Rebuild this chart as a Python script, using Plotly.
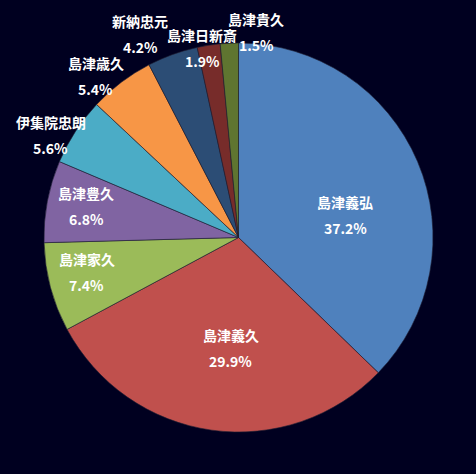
import math

import plotly.graph_objects as go

# 人物別の割合 (%)
names = ["島津義弘", "島津義久", "島津家久", "島津豊久", "伊集院忠朗",
         "島津歳久", "新納忠元", "島津日新斎", "島津貴久"]
shares = [37.2, 29.9, 7.4, 6.8, 5.6, 5.4, 4.2, 1.9, 1.5]
colors = ["#4F81BD", "#C0504D", "#9BBB59", "#8064A2", "#4BACC6",
          "#F79646", "#2C4D75", "#772C2A", "#5F7530"]

# ラベル配置（円の半径に対する距離の比率と、中心角からのずらし角度）
label_radius = [0.56, 0.57, 0.80, 0.80, 1.10, 1.11, 1.16, 0.99, 1.06]
label_nudge = [11, -4, 2, 1, -4.5, -4.3, -6, -2, 7.7]

BG = "#000020"
FONT = "Noto Sans CJK JP, sans-serif"
W, H = 476, 474
M = dict(l=44, r=43, t=43, b=42)

fig = go.Figure(go.Pie(
    labels=names,
    values=shares,
    sort=False,
    direction="clockwise",
    rotation=0,
    marker=dict(colors=colors, line=dict(color="rgba(30,30,50,0.6)", width=1)),
    textinfo="none",
    hoverinfo="label+percent",
    showlegend=False,
))

# 中心角からラベル位置を計算して annotation で置く
total = sum(shares)
plot_w = W - M["l"] - M["r"]
plot_h = H - M["t"] - M["b"]
cum = 0.0
for name, v, rf, nudge in zip(names, shares, label_radius, label_nudge):
    mid = (cum + v / 2) / total * 360 + nudge
    cum += v
    rad = math.radians(mid)
    x = 0.5 + 0.5 * rf * math.sin(rad)
    y = 0.5 + 0.5 * rf * math.cos(rad) * plot_w / plot_h
    for txt, shift in ((name, 13), (f"{v:.1f}%", -13)):
        fig.add_annotation(
            x=x, y=y, xref="paper", yref="paper",
            xanchor="center", yanchor="middle",
            text=f"<b>{txt}</b>", showarrow=False, yshift=shift,
            font=dict(family=FONT, size=14, color="white"),
        )

fig.update_layout(
    width=W,
    height=H,
    paper_bgcolor=BG,
    plot_bgcolor=BG,
    margin=M,
)

# ページ余白(body の 8px)を消し、モードバーも出さない
fig.write_html(
    "out.html",
    config={"displayModeBar": False},
    post_script="document.body.style.margin='0';",
)
